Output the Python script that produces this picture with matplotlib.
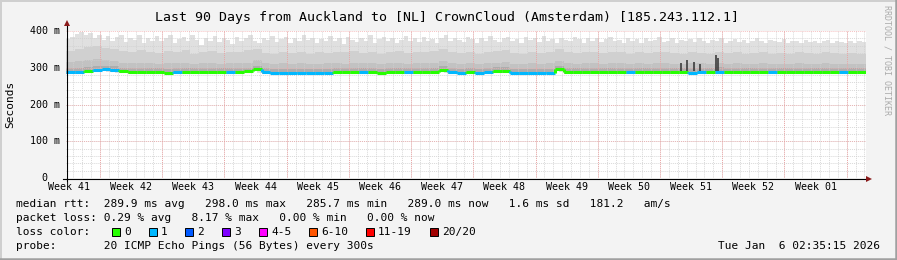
import numpy as np
import matplotlib
matplotlib.use("Agg")
import matplotlib.pyplot as plt
from matplotlib.collections import LineCollection
from matplotlib.lines import Line2D
from matplotlib.patches import Rectangle

W, H = 897, 260

# ----------------------------------------------- DATA -----------------------------------------------------------------
title = "Last 90 Days from Auckland to [NL] CrownCloud (Amsterdam) [185.243.112.1]"
week_labels = ["Week 41", "Week 42", "Week 43", "Week 44", "Week 45", "Week 46", "Week 47",
               "Week 48", "Week 49", "Week 50", "Week 51", "Week 52", "Week 01"]
y_ticks = [0, 100, 200, 300, 400]
y_tick_labels = ["0  ", "100 m", "200 m", "300 m", "400 m"]

# median rtt per day (ms)
median = [288, 288, 291, 295, 296, 295, 290, 289, 288, 289,
          288, 287, 288, 289, 288, 288, 289, 288, 288, 289,
          290, 297, 288, 287, 287, 286, 287, 287, 286, 287,
          288, 288, 289, 288, 288, 287, 288, 288, 289, 288,
          288, 289, 294, 289, 287, 288, 287, 288, 291, 292,
          287, 286, 286, 286, 287, 297, 289, 288, 288, 289,
          288, 288, 289, 288, 289, 288, 288, 289, 288, 289,
          287, 288, 289, 288, 289, 288, 289, 288, 289, 288,
          288, 289, 288, 289, 288, 288, 289, 288, 289, 288]

# lost pings (of 20) per day
loss = [1, 1, 0, 1, 1, 1, 0, 0, 0, 0,
        0, 0, 1, 0, 0, 0, 0, 0, 1, 0,
        0, 0, 1, 1, 1, 1, 1, 1, 1, 1,
        0, 0, 0, 1, 0, 0, 0, 0, 1, 0,
        0, 0, 0, 1, 1, 0, 1, 1, 0, 0,
        1, 1, 1, 1, 1, 0, 0, 0, 0, 0,
        0, 0, 0, 1, 0, 0, 0, 0, 0, 0,
        1, 1, 0, 1, 0, 0, 0, 0, 0, 1,
        0, 0, 0, 0, 0, 0, 0, 1, 0, 0]

# smoke: highest ping per half day
smoke_top = [378, 385, 392, 396, 388, 394, 380, 390, 376, 386, 372, 384, 390, 370, 382, 376, 388, 368, 380, 374,
             386, 372, 380, 390, 366, 378, 384, 372, 388, 376, 362, 382, 374, 386, 370, 380, 376, 364, 384, 372,
             380, 390, 374, 368, 382, 376, 386, 370, 378, 384, 366, 380, 372, 388, 376, 382, 368, 378, 374, 386,
             372, 380, 364, 384, 376, 370, 382, 374, 388, 368, 378, 384, 372, 380, 366, 376, 386, 372, 380, 370,
             384, 374, 378, 366, 382, 388, 372, 380, 376, 370, 384, 378, 368, 382, 374, 386, 376, 370, 380, 384,
             372, 378, 366, 384, 376, 380, 370, 386, 374, 378, 368, 382, 376, 372, 384, 378, 366, 380, 374, 382,
             370, 378, 384, 372, 376, 368, 382, 374, 378, 366, 380, 372, 376, 384, 370, 374, 380, 368, 376, 372,
             378, 370, 382, 374, 366, 376, 372, 380, 368, 374, 378, 370, 376, 366, 372, 380, 374, 368, 376, 372,
             370, 378, 366, 374, 372, 368, 376, 370, 374, 366, 372, 376, 368, 374, 370, 366, 372, 368, 374, 370]

# smoke: upper, middle and inner quantiles per day
smoke_upper = [345, 352, 356, 358, 354, 350, 346, 342, 348, 344,
               340, 346, 342, 348, 338, 344, 346, 340, 344, 342,
               348, 352, 340, 338, 342, 340, 344, 338, 342, 340,
               344, 342, 346, 340, 344, 338, 342, 346, 340, 344,
               342, 346, 350, 344, 340, 342, 338, 342, 346, 348,
               340, 338, 342, 340, 344, 350, 342, 340, 344, 342,
               340, 344, 342, 338, 342, 340, 344, 342, 340, 338,
               342, 340, 338, 344, 340, 342, 338, 340, 342, 338,
               340, 338, 342, 340, 338, 342, 340, 338, 340, 338]
smoke_mid = [316, 318, 322, 324, 322, 318, 314, 312, 314, 312,
             310, 312, 314, 312, 310, 312, 314, 310, 312, 312,
             314, 320, 312, 310, 312, 310, 312, 310, 310, 312,
             312, 310, 314, 312, 312, 310, 312, 314, 310, 312,
             312, 314, 318, 312, 310, 312, 310, 312, 314, 316,
             310, 310, 312, 310, 312, 318, 312, 310, 312, 312,
             310, 312, 312, 310, 312, 310, 312, 312, 310, 310,
             312, 312, 310, 314, 310, 312, 310, 310, 312, 310,
             310, 310, 312, 310, 310, 312, 310, 310, 310, 310]
smoke_inner = [298, 298, 301, 305, 306, 304, 300, 299, 298, 299,
               298, 297, 298, 299, 298, 298, 299, 298, 298, 299,
               300, 306, 298, 297, 297, 296, 297, 297, 296, 297,
               298, 298, 299, 298, 298, 297, 298, 298, 299, 298,
               298, 299, 304, 299, 297, 298, 297, 298, 301, 302,
               297, 296, 296, 296, 297, 306, 299, 298, 298, 299,
               298, 298, 299, 298, 299, 298, 298, 299, 298, 299,
               300, 300, 299, 302, 299, 298, 299, 298, 299, 298,
               298, 299, 298, 299, 298, 298, 299, 298, 299, 298]
smoke_low = [283, 283, 285, 289, 290, 289, 285, 284, 283, 284,
             283, 282, 283, 284, 283, 283, 284, 283, 283, 284,
             285, 291, 283, 282, 282, 281, 282, 282, 281, 282,
             283, 283, 284, 283, 283, 282, 283, 283, 284, 283,
             283, 284, 289, 284, 282, 283, 282, 283, 286, 287,
             282, 281, 281, 281, 282, 291, 284, 283, 283, 284,
             283, 283, 284, 283, 284, 283, 283, 284, 283, 284,
             282, 283, 284, 283, 284, 283, 284, 283, 284, 283,
             283, 284, 283, 284, 283, 283, 284, 283, 284, 283]

# thin dark smoke spikes (day, top ms)
spike_days = [69.2, 69.9, 70.6, 71.3, 73.1, 73.4]
spike_tops = [312, 322, 316, 310, 335, 326]

loss_labels = ["0", "1", "2", "3", "4-5", "6-10", "11-19", "20/20"]
loss_colors = ["#26ff00", "#00b8ff", "#0059ff", "#7e00ff", "#ff00ff", "#ff5500", "#ff0000", "#a10000"]

median_line = "median rtt:  289.9 ms avg   298.0 ms max   285.7 ms min   289.0 ms now   1.6 ms sd   181.2   am/s"
loss_line = "packet loss: 0.29 % avg   8.17 % max   0.00 % min   0.00 % now"
probe_line = "probe:       20 ICMP Echo Pings (56 Bytes) every 300s"
stamp = "Tue Jan  6 02:35:15 2026"

days = 90
week_start = 3.83  # first monday inside the window, in days


# ----------------------------------------------- HELPERS --------------------------------------------------------------
def fx(x):
    return x / W


def fy(y):
    return 1 - y / H


def step_xy(values, span):
    n = len(values)
    x = np.linspace(0, span, n + 1)
    y = np.append(values, values[-1])
    return x, y


def loss_index(n):
    if n <= 3:
        return n
    if n <= 5:
        return 4
    if n <= 10:
        return 5
    if n <= 19:
        return 6
    return 7


# ----------------------------------------------- PLOT -----------------------------------------------------------------
plt.rcParams['font.family'] = ['DejaVu Sans Mono']
fig = plt.figure(figsize=(W / 100, H / 100), dpi=100, facecolor='#f3f3f3')

# 3d frame
fig.add_artist(Line2D([0, 1], [fy(0.5), fy(0.5)], color='#cfcfcf', lw=1.4))
fig.add_artist(Line2D([fx(0.5), fx(0.5)], [0, 1], color='#cfcfcf', lw=1.4))
fig.add_artist(Line2D([0, 1], [fy(259), fy(259)], color='#a0a0a0', lw=1.8))
fig.add_artist(Line2D([fx(896), fx(896)], [0, 1], color='#a0a0a0', lw=1.8))

ax = fig.add_axes([fx(66), fy(178), 800 / W, 147 / H])
ax.set_xlim(0, days)
ax.set_ylim(0, 400)
ax.set_facecolor('white')
for s in ax.spines.values():
    s.set_visible(False)
ax.set_xticks([])
ax.set_yticks([])

# smoke
xl, lo = step_xy(smoke_low, days)
for vals, col in [(smoke_top, '#e0e0e0'), (smoke_upper, '#d0d0d0'), (smoke_mid, '#c2c2c2'),
                  (smoke_inner, '#adadad')]:
    xs, hi = step_xy(vals, days)
    lo_i = np.interp(xs, xl, lo)
    ax.fill_between(xs, lo_i, hi, step='post', color=col, lw=0, zorder=1)

# grid
dots = (0, (1, 1))
for d in np.arange(week_start % 1, days, 1.0):
    ax.axvline(d, color='#d0d0d0', lw=0.7, ls=dots, zorder=2, alpha=0.8)
for v in range(20, 400, 20):
    ax.axhline(v, color='#d0d0d0', lw=0.7, ls=dots, zorder=2, alpha=0.8)
for d in np.arange(week_start, days, 7.0):
    ax.axvline(d, color='#f09a9a', lw=0.7, ls=dots, zorder=2, alpha=0.8)
for v in y_ticks[1:]:
    ax.axhline(v, color='#f09a9a', lw=0.7, ls=dots, zorder=2, alpha=0.6)

ax.vlines(spike_days, 292, spike_tops, color='#3c3c3c', lw=1.2, zorder=3)

# median coloured by loss
segs, cols = [], []
for i, m in enumerate(median):
    segs.append([(i, m), (i + 1, m)])
    cols.append(loss_colors[loss_index(loss[i])])
    if i + 1 < len(median):
        segs.append([(i + 1, m), (i + 1, median[i + 1])])
        cols.append(loss_colors[loss_index(loss[i + 1])])
ax.add_collection(LineCollection(segs, colors=cols, linewidths=2.2, zorder=4, capstyle='butt'))

# axes with arrows
fig.add_artist(Line2D([fx(63), fx(867)], [fy(178.5), fy(178.5)], color='black', lw=0.8))
fig.add_artist(Line2D([fx(66.5), fx(66.5)], [fy(181), fy(26)], color='black', lw=0.8))
fig.add_artist(Line2D([fx(869)], [fy(178.5)], marker='>', color='#8b1a1a', ms=5, mew=0))
fig.add_artist(Line2D([fx(66.5)], [fy(23)], marker='^', color='#8b1a1a', ms=5, mew=0))

# labels
tick_x = np.arange(len(week_labels)) * 7.0 + week_start - 3.5
label_shift = matplotlib.transforms.ScaledTranslation(0, -9 / 100, fig.dpi_scale_trans)
for x, lab in zip(tick_x, week_labels):
    ax.text(x, 0, lab, ha='center', va='center', fontsize=7.2, color='black', clip_on=False,
            transform=ax.get_xaxis_transform() + label_shift)
for v, lab in zip(y_ticks, y_tick_labels):
    fig.text(fx(60), fy(178 - v * 147 / 400), lab, ha='right', va='center', fontsize=7.2)

fig.text(fx(447), fy(18), title, ha='center', va='center', fontsize=9.5)
fig.text(fx(10), fy(104), "Seconds", rotation=90, ha='center', va='center', fontsize=8)
fig.text(fx(887), fy(5), "RRDTOOL / TOBI OETIKER", rotation=270, ha='center', va='top',
         fontsize=6, color='#ababab')

fig.text(fx(16), fy(204), median_line, ha='left', va='center', fontsize=8)
fig.text(fx(16), fy(218), loss_line, ha='left', va='center', fontsize=8)
fig.text(fx(16), fy(232), "loss color:", ha='left', va='center', fontsize=8)
fig.text(fx(16), fy(246), probe_line, ha='left', va='center', fontsize=8)
fig.text(fx(880), fy(246), stamp, ha='right', va='center', fontsize=8)

# loss colour legend
bx = 112.0
for lab, col in zip(loss_labels, loss_colors):
    fig.add_artist(Rectangle((fx(bx), fy(236)), 8 / W, 8 / H, facecolor=col, edgecolor='black', lw=0.7))
    fig.text(fx(bx + 12), fy(232), lab, ha='left', va='center', fontsize=8)
    bx += 12 + len(lab) * 6.74 + 18

fig.savefig("out.png", dpi=100, facecolor=fig.get_facecolor())
